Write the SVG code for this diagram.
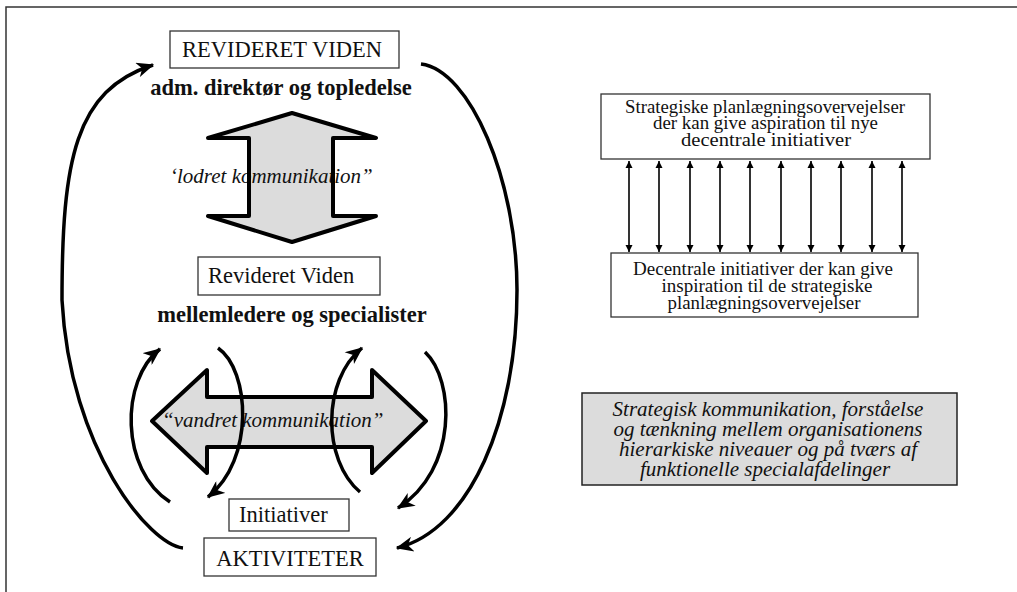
<svg xmlns="http://www.w3.org/2000/svg" width="1017" height="592" viewBox="0 0 1017 592">
<defs>
<style>
.box{fill:#fff;stroke:#333;stroke-width:1.3}
.t{font-family:"Liberation Serif","Times New Roman",serif;fill:#111}
.big{font-size:22.5px}
.bold{font-size:22.5px;font-weight:bold}
.it{font-size:21px;font-style:italic}
.sm{font-size:18px}
.arrowfill{fill:#dcdcdc;stroke:none}
.arrowline{fill:none;stroke:#000;stroke-width:4;stroke-linejoin:round}
.curve{fill:none;stroke:#000;stroke-width:3.5;marker-end:url(#head)}
.dbl{stroke:#000;stroke-width:1.6;marker-start:url(#sh);marker-end:url(#sh)}
</style>
<marker id="head" viewBox="0 0 14 12" refX="13" refY="6" markerWidth="18" markerHeight="15" markerUnits="userSpaceOnUse" orient="auto">
<path d="M0,0 L14,6 L0,12 L4,6 Z" fill="#000"/>
</marker>
<marker id="sh" viewBox="0 0 8 8" refX="8" refY="4" markerWidth="7" markerHeight="8" markerUnits="userSpaceOnUse" orient="auto-start-reverse">
<path d="M0,0 L8,4 L0,8 Z" fill="#000"/>
</marker>
<polygon id="vArrow" points="292,113 376,138 333,138 333,216 376,216 292,242 208,216 249,216 249,138 208,138"/>
<polygon id="hArrow" points="152,421 207,370 207,397 372,397 372,370 426,421 372,473 372,447 207,447 207,473"/>
</defs>
<rect x="0" y="0" width="1017" height="592" fill="#fff"/>
<rect x="6" y="7" width="1040" height="620" fill="none" stroke="#333" stroke-width="1.5"/>

<g id="lodret-arrow">
<use href="#vArrow" class="arrowfill"/>
<text class="t it" x="170" y="183">‘lodret kommunikation”</text>
<use href="#vArrow" class="arrowline"/>
</g>
<g id="vandret-arrow">
<use href="#hArrow" class="arrowfill"/>
<text class="t it" x="162" y="427">“vandret kommunikation”</text>
<use href="#hArrow" class="arrowline"/>
</g>

<g id="revideret-viden-top">
<rect class="box" x="170" y="31" width="229" height="37"/>
<text class="t big" x="282" y="57" text-anchor="middle">REVIDERET VIDEN</text>
</g>
<g id="adm-direktoer">
<text class="t bold" x="281" y="95" text-anchor="middle">adm. direktør og topledelse</text>
</g>
<g id="revideret-viden-mid">
<rect class="box" x="198" y="257" width="182" height="38"/>
<text class="t big" x="208" y="283">Revideret Viden</text>
</g>
<g id="mellemledere">
<text class="t bold" x="292" y="322" text-anchor="middle">mellemledere og specialister</text>
</g>
<g id="initiativer">
<rect class="box" x="229" y="499" width="120" height="32"/>
<text class="t big" x="239" y="522">Initiativer</text>
</g>
<g id="aktiviteter">
<rect class="box" x="204" y="538" width="172" height="38"/>
<text class="t big" x="290" y="566" text-anchor="middle">AKTIVITETER</text>
</g>

<g id="strategiske">
<rect class="box" x="601" y="94" width="329" height="65"/>
<text class="t sm" x="765" y="113" text-anchor="middle" textLength="280" lengthAdjust="spacingAndGlyphs">Strategiske planlægningsovervejelser</text>
<text class="t sm" x="765.5" y="129" text-anchor="middle" textLength="225" lengthAdjust="spacingAndGlyphs">der kan give aspiration til nye</text>
<text class="t sm" x="766" y="146" text-anchor="middle" textLength="170" lengthAdjust="spacingAndGlyphs">decentrale initiativer</text>
</g>
<g id="decentrale">
<rect class="box" x="611" y="253" width="307" height="64"/>
<text class="t sm" x="763" y="275" text-anchor="middle" textLength="260" lengthAdjust="spacingAndGlyphs">Decentrale initiativer der kan give</text>
<text class="t sm" x="767" y="292" text-anchor="middle" textLength="211" lengthAdjust="spacingAndGlyphs">inspiration til de strategiske</text>
<text class="t sm" x="764" y="309" text-anchor="middle" textLength="193" lengthAdjust="spacingAndGlyphs">planlægningsovervejelser</text>
</g>
<g id="strategisk-kommunikation">
<rect x="582" y="393" width="375" height="92" fill="#dcdcdc" stroke="#222" stroke-width="1.5"/>
<text class="t it" text-anchor="middle"><tspan x="768" y="416">Strategisk kommunikation, forståelse</tspan><tspan x="768" y="436">og tænkning mellem organisationens</tspan><tspan x="768" y="456">hierarkiske niveauer og på tværs af</tspan><tspan x="765" y="476">funktionelle specialafdelinger</tspan></text>
</g>

<g id="connectors">
<path class="curve" d="M183,548 C150,545 70,450 62,300 C62,160 75,90 153,65"/>
<path class="curve" d="M421,64 C470,70 517,180 517,290 C517,420 470,530 397,548"/>
<path class="curve" d="M170,502 C120,470 120,380 160,349"/>
<path class="curve" d="M218,348 C250,370 255,460 208,497"/>
<path class="curve" d="M360,492 C322,460 322,380 362,348"/>
<path class="curve" d="M425,352 C455,380 458,470 398,508"/>
<line class="dbl" x1="629" y1="161" x2="629" y2="252"/>
<line class="dbl" x1="659" y1="161" x2="659" y2="252"/>
<line class="dbl" x1="690" y1="161" x2="690" y2="252"/>
<line class="dbl" x1="720" y1="161" x2="720" y2="252"/>
<line class="dbl" x1="750" y1="161" x2="750" y2="252"/>
<line class="dbl" x1="781" y1="161" x2="781" y2="252"/>
<line class="dbl" x1="811" y1="161" x2="811" y2="252"/>
<line class="dbl" x1="841" y1="161" x2="841" y2="252"/>
<line class="dbl" x1="872" y1="161" x2="872" y2="252"/>
<line class="dbl" x1="902" y1="161" x2="902" y2="252"/>
</g>
</svg>
